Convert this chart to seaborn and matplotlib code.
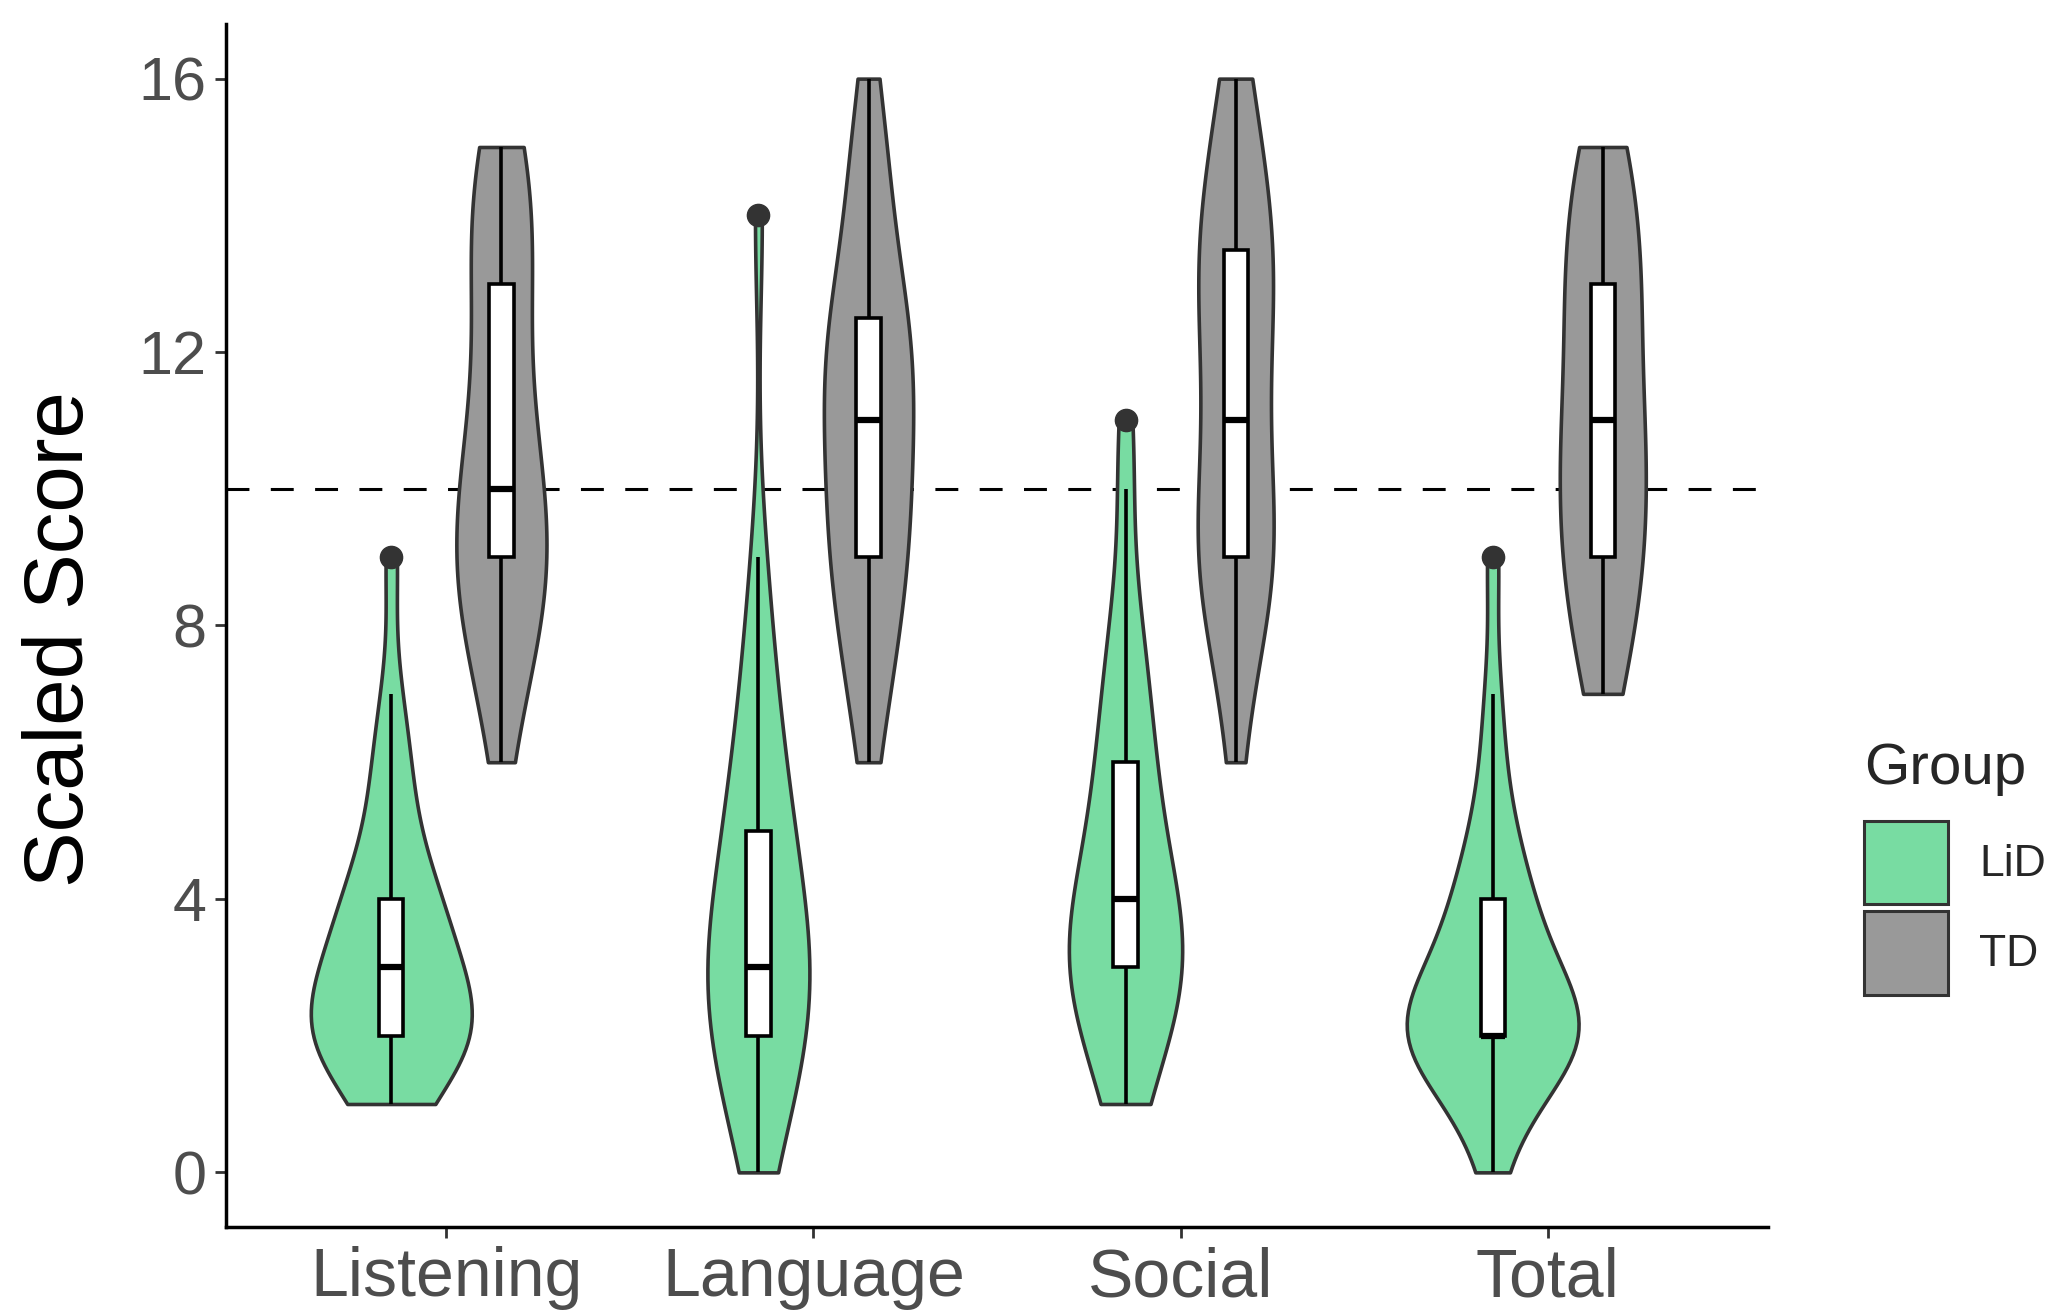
import numpy as np
import pandas as pd
import matplotlib
matplotlib.use("Agg")
import matplotlib.pyplot as plt
from matplotlib.patches import Patch
import seaborn as sns

# Categorias y grupos
domains = ["Listening", "Language", "Social", "Total"]
groups = ["LiD", "TD"]
colors = {"LiD": "#78DCA2", "TD": "#999999"}

# Puntuaciones (valor: frecuencia)
listening_lid = {1: 3, 2: 10, 3: 6, 4: 5, 5: 2, 6: 2, 7: 1, 9: 1}
listening_td = {6: 1, 7: 2, 8: 4, 9: 5, 10: 4, 11: 3, 12: 2, 13: 3, 14: 3, 15: 3}
language_lid = {0: 1, 1: 4, 2: 4, 3: 7, 4: 3, 5: 4, 6: 2, 7: 2, 8: 1, 9: 1, 14: 1}
language_td = {6: 1, 7: 2, 8: 3, 9: 4, 10: 4, 11: 4, 12: 5, 13: 3, 14: 2, 15: 2, 16: 1}
social_lid = {1: 2, 2: 4, 3: 7, 4: 5, 5: 3, 6: 3, 7: 2, 8: 2, 10: 1, 11: 1}
social_td = {6: 1, 7: 1, 8: 3, 9: 5, 10: 3, 11: 3, 12: 3, 13: 4, 14: 4, 15: 2, 16: 2}
total_lid = {0: 1, 1: 3, 2: 12, 3: 5, 4: 4, 5: 2, 6: 1, 7: 1, 9: 1}
total_td = {7: 2, 8: 3, 9: 4, 10: 4, 11: 4, 12: 3, 13: 4, 14: 3, 15: 3}

scores = {
    ("Listening", "LiD"): listening_lid, ("Listening", "TD"): listening_td,
    ("Language", "LiD"): language_lid, ("Language", "TD"): language_td,
    ("Social", "LiD"): social_lid, ("Social", "TD"): social_td,
    ("Total", "LiD"): total_lid, ("Total", "TD"): total_td,
}

# Tabla larga para seaborn
offset = {"LiD": -0.15, "TD": 0.15}
rows = []
for (dom, grp), counts in scores.items():
    for val, n in counts.items():
        for _ in range(n):
            rows.append({"Domain": dom, "Group": grp, "Score": val,
                         "pos": domains.index(dom) + 1 + offset[grp]})
data = pd.DataFrame(rows)

sns.set_theme(style="ticks")
plt.rcParams["font.family"] = ["Liberation Sans", "DejaVu Sans"]

fig = plt.figure(figsize=(20.57, 13.16), dpi=100)
ax = fig.add_axes([0.1099, 0.0676, 0.7496, 0.9142])

ax.axhline(10, color="black", linestyle=(0, (7.5, 7)), linewidth=2.2, zorder=0)

sns.violinplot(data=data, x="pos", y="Score", hue="Group", palette=colors,
               native_scale=True, density_norm="area", common_norm=True,
               cut=0, inner=None, width=1.56, bw_method=0.45, saturation=1,
               linewidth=2.6, linecolor="#333333", legend=False, ax=ax)

sns.boxplot(data=data, x="pos", y="Score", native_scale=True, color="white",
            width=0.22, saturation=1, linewidth=2.6, linecolor="black",
            showcaps=False,
            medianprops=dict(linewidth=4.5, color="black"),
            flierprops=dict(marker="o", markersize=16, markerfacecolor="#333333",
                            markeredgecolor="#333333"),
            ax=ax)

ax.set_xlim(0.4, 4.6)
ax.set_ylim(-0.8, 16.8)
ax.set_xticks([1, 2, 3, 4])
ax.set_xticklabels(domains)
ax.set_yticks([0, 4, 8, 12, 16])
ax.set_xlabel("")
ax.set_ylabel("Scaled Score", fontsize=60, color="black")
ax.yaxis.set_label_coords(-0.082, 0.489)
ax.tick_params(axis="both", colors="#333333", length=8, width=2)
ax.tick_params(axis="x", labelsize=49, labelcolor="#4D4D4D", pad=6)
ax.tick_params(axis="y", labelsize=44, labelcolor="#4D4D4D", pad=6)
for side in ["left", "bottom"]:
    ax.spines[side].set_linewidth(2.5)
    ax.spines[side].set_color("black")
sns.despine(ax=ax)

handles = [Patch(facecolor=colors[g], edgecolor="#333333", linewidth=2.2) for g in groups]
leg = fig.legend(handles, groups, title="Group", loc="upper left",
                 bbox_to_anchor=(0.8956, 0.453), frameon=False, fontsize=32,
                 title_fontsize=42, handlelength=1.875, handleheight=2.51,
                 labelspacing=0.15, handletextpad=0.7, borderpad=0)
leg._legend_box.align = "left"
leg._legend_box.sep = 18

fig.savefig("out.png", dpi=100)
